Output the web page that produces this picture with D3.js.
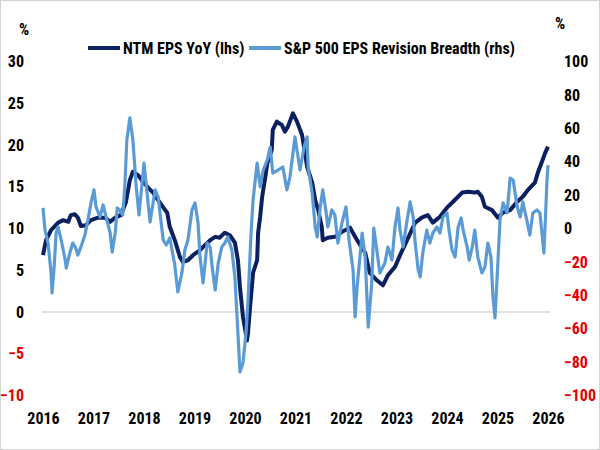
<!DOCTYPE html>
<html>
<head>
<meta charset="utf-8">
<title>NTM EPS YoY vs S&amp;P 500 EPS Revision Breadth</title>
<style>
  body { margin: 0; background: #fff; }
  svg text {
    font-family: 'Liberation Sans Narrow', 'Arial Narrow', 'Roboto Condensed', sans-serif;
    font-weight: bold;
    font-size: 16px;
  }
</style>
</head>
<body>
<svg id="svg" width="600" height="450"></svg>
<script src="https://cdn.jsdelivr.net/npm/d3@7"></script>
<script>
// NTM EPS YoY (%, lhs)
const epsYear = [2016.00, 2016.06, 2016.16, 2016.30, 2016.40, 2016.50, 2016.55, 2016.63, 2016.69, 2016.75,
  2016.85, 2016.95, 2017.09, 2017.23, 2017.33, 2017.43, 2017.54, 2017.64, 2017.72, 2017.78,
  2017.88, 2017.98, 2018.08, 2018.18, 2018.28, 2018.42, 2018.46, 2018.51, 2018.61, 2018.71,
  2018.77, 2018.87, 2018.97, 2019.11, 2019.17, 2019.31, 2019.41, 2019.50, 2019.60, 2019.70,
  2019.80, 2019.86, 2019.90, 2019.96, 2020.04, 2020.06, 2020.10, 2020.16, 2020.24, 2020.26,
  2020.30, 2020.34, 2020.40, 2020.44, 2020.53, 2020.55, 2020.63, 2020.73, 2020.79, 2020.85,
  2020.95, 2021.03, 2021.13, 2021.23, 2021.33, 2021.39, 2021.45, 2021.52, 2021.54, 2021.64,
  2021.78, 2021.92, 2022.08, 2022.22, 2022.38, 2022.47, 2022.61, 2022.73, 2022.83, 2022.97,
  2023.07, 2023.21, 2023.33, 2023.37, 2023.50, 2023.62, 2023.72, 2023.86, 2024.00, 2024.12,
  2024.30, 2024.42, 2024.55, 2024.61, 2024.69, 2024.75, 2024.89, 2025.01, 2025.11, 2025.25,
  2025.39, 2025.50, 2025.60, 2025.74, 2025.80, 2025.88, 2025.94, 2026.00];
const epsYoY = [6.8, 8.6, 9.8, 10.7, 11.0, 10.8, 11.6, 11.7, 11.3, 10.3,
  10.4, 11.0, 11.3, 11.3, 10.8, 11.3, 11.6, 13.1, 15.8, 16.8,
  16.4, 15.6, 14.9, 14.3, 13.4, 12.2, 11.9, 10.2, 8.6, 6.6,
  6.0, 6.2, 6.8, 7.4, 7.8, 8.6, 9.0, 8.9, 9.5, 9.2,
  8.3, 6.2, 3.0, -0.6, -3.4, -2.5, 0.6, 4.7, 6.2, 9.5,
  11.4, 13.8, 16.1, 17.8, 19.4, 21.8, 22.8, 22.4, 21.6, 22.2,
  23.8, 22.8, 21.2, 17.4, 15.5, 13.4, 12.2, 10.2, 8.6, 8.9,
  9.0, 9.6, 10.1, 8.6, 7.1, 4.7, 3.8, 3.2, 4.4, 5.4,
  6.8, 8.6, 10.2, 10.7, 11.3, 11.6, 10.7, 11.4, 12.5, 13.2,
  14.3, 14.4, 14.3, 14.4, 13.8, 12.6, 12.2, 11.3, 11.9, 12.2,
  13.2, 13.8, 14.6, 15.5, 16.7, 18.0, 19.0, 19.8];

// S&P 500 EPS Revision Breadth (%, rhs)
const breadthYear = [2016.00, 2016.04, 2016.10, 2016.16, 2016.18, 2016.22, 2016.26, 2016.30, 2016.36, 2016.44,
  2016.46, 2016.53, 2016.59, 2016.65, 2016.69, 2016.75, 2016.83, 2016.89, 2016.95, 2017.01,
  2017.05, 2017.13, 2017.19, 2017.25, 2017.33, 2017.37, 2017.43, 2017.47, 2017.52, 2017.58,
  2017.62, 2017.66, 2017.72, 2017.78, 2017.84, 2017.90, 2018.00, 2018.06, 2018.12, 2018.22,
  2018.28, 2018.38, 2018.44, 2018.51, 2018.61, 2018.67, 2018.75, 2018.81, 2018.87, 2018.95,
  2019.01, 2019.07, 2019.11, 2019.17, 2019.25, 2019.31, 2019.35, 2019.41, 2019.47, 2019.54,
  2019.60, 2019.66, 2019.74, 2019.80, 2019.86, 2019.90, 2019.96, 2020.02, 2020.06, 2020.12,
  2020.16, 2020.24, 2020.30, 2020.36, 2020.44, 2020.50, 2020.55, 2020.65, 2020.75, 2020.83,
  2020.89, 2020.99, 2021.09, 2021.17, 2021.23, 2021.25, 2021.33, 2021.39, 2021.43, 2021.49,
  2021.54, 2021.60, 2021.64, 2021.72, 2021.78, 2021.84, 2021.92, 2022.00, 2022.06, 2022.14,
  2022.18, 2022.22, 2022.32, 2022.38, 2022.44, 2022.51, 2022.55, 2022.61, 2022.67, 2022.77,
  2022.83, 2022.91, 2022.97, 2023.03, 2023.07, 2023.13, 2023.21, 2023.27, 2023.33, 2023.37,
  2023.43, 2023.47, 2023.52, 2023.60, 2023.66, 2023.72, 2023.80, 2023.86, 2023.92, 2024.00,
  2024.04, 2024.10, 2024.16, 2024.22, 2024.28, 2024.32, 2024.40, 2024.44, 2024.50, 2024.55,
  2024.61, 2024.69, 2024.75, 2024.81, 2024.87, 2024.91, 2024.95, 2024.99, 2025.05, 2025.11,
  2025.19, 2025.25, 2025.31, 2025.39, 2025.45, 2025.50, 2025.58, 2025.64, 2025.70, 2025.78,
  2025.84, 2025.92, 2025.98, 2026.00];
const breadth = [12.3, -0.9, -8.7, -26.6, -38.6, -23.1, -2.7, 0.9, -6.9, -18.9,
  -23.7, -14.7, -8.7, -11.7, -15.9, -11.1, -3.9, 5.1, 15.3, 23.1,
  12.9, 6.9, 14.1, 6.9, -2.7, -14.1, -2.7, 12.3, 11.1, 8.1,
  24.9, 53.0, 66.2, 53.0, 27.2, 8.1, 39.2, 21.3, 3.9, 23.1,
  18.9, -6.9, -9.9, -5.7, -21.9, -38.0, -26.6, -12.9, -6.9, 11.1,
  15.3, 3.3, -17.1, -32.6, -8.7, -11.1, -23.1, -36.8, -20.7, -11.1,
  -8.7, -5.1, -12.9, -29.0, -62.6, -85.9, -80.5, -62.6, -42.8, -2.7,
  17.1, 39.2, 24.9, 35.0, 41.0, 48.8, 33.2, 35.0, 36.8, 23.1,
  30.8, 54.8, 35.0, 48.8, 54.8, 36.8, 21.3, 0.9, -5.1, 12.9,
  23.1, 11.1, 0.9, 11.1, 8.1, -8.7, 3.3, 12.9, -6.9, -24.9,
  -53.0, -35.0, -2.7, -17.1, -59.0, -32.6, 0.3, -12.9, -26.6, -20.7,
  -11.1, -18.9, 0.9, 12.3, -0.9, -11.1, 5.1, 15.9, 6.9, -8.7,
  -24.9, -29.0, -14.7, -0.9, -8.7, -2.7, 0.9, -2.7, 6.9, 9.3,
  -0.9, -12.9, -17.1, 0.9, 6.3, -0.9, -11.1, -18.9, -11.1, -0.9,
  -17.1, -26.6, -23.1, -8.7, -17.1, -41.0, -53.6, -30.8, 5.1, 15.3,
  9.3, 30.2, 29.0, 12.9, 6.9, 15.9, 5.1, -3.9, 9.3, 11.1,
  9.3, -14.7, 29.0, 38.0];

const yearTicks = [2016, 2017, 2018, 2019, 2020, 2021, 2022, 2023, 2024, 2025, 2026];
const leftTicks = [-10, -5, 0, 5, 10, 15, 20, 25, 30];
const rightTicks = [-100, -80, -60, -40, -20, 0, 20, 40, 60, 80, 100];

const darkBlue = '#0c1f5e';
const lightBlue = '#5b9bd5';
const red = '#e60000';

const svg = d3.select('#svg');

svg.append('rect')
  .attr('x', 0.5).attr('y', 0.5)
  .attr('width', 599).attr('height', 449)
  .attr('fill', '#fff')
  .attr('stroke', '#d4d4d4');

const x = d3.scaleLinear().domain([2016, 2026]).range([43, 548]);
const yL = d3.scaleLinear().domain([-10, 30]).range([395.5, 61.5]);
const yR = d3.scaleLinear().domain([-100, 100]).range([395.5, 61.5]);

// zero line of the left axis
svg.append('line')
  .attr('x1', x(2016) - 1).attr('x2', x(2026) + 2)
  .attr('y1', yL(0)).attr('y2', yL(0))
  .attr('stroke', '#d9d9d9')
  .attr('stroke-width', 1.5);

// axes, labels only
function styleAxis(g) {
  g.select('.domain').remove();
  g.selectAll('.tick line').remove();
  g.selectAll('.tick text').attr('font-size', null).attr('font-family', null);
}

svg.append('g')
  .attr('transform', 'translate(24,0)')
  .call(d3.axisLeft(yL).tickValues(leftTicks).tickSize(0).tickPadding(0))
  .call(styleAxis)
  .selectAll('.tick text')
  .attr('fill', d => d < 0 ? red : '#000');

svg.append('g')
  .attr('transform', 'translate(564,0)')
  .call(d3.axisRight(yR).tickValues(rightTicks).tickSize(0).tickPadding(0))
  .call(styleAxis)
  .selectAll('.tick text')
  .attr('fill', d => d < 0 ? red : '#000');

svg.append('g')
  .attr('transform', 'translate(0,413)')
  .call(d3.axisBottom(x).tickValues(yearTicks).tickFormat(d3.format('d')).tickSize(0).tickPadding(0))
  .call(styleAxis)
  .selectAll('.tick text')
  .attr('fill', '#000');

svg.append('text').attr('x', 24).attr('y', 35).attr('text-anchor', 'middle').text('%');
svg.append('text').attr('x', 560).attr('y', 29).attr('text-anchor', 'middle').text('%');

// lines
const epsLine = d3.line()
  .x((d, i) => x(epsYear[i]))
  .y(d => yL(d));

const breadthLine = d3.line()
  .x((d, i) => x(breadthYear[i]))
  .y(d => yR(d));

svg.append('path')
  .attr('d', epsLine(epsYoY))
  .attr('fill', 'none')
  .attr('stroke', darkBlue)
  .attr('stroke-width', 4)
  .attr('stroke-linejoin', 'round');

svg.append('path')
  .attr('d', breadthLine(breadth))
  .attr('fill', 'none')
  .attr('stroke', lightBlue)
  .attr('stroke-width', 3.2)
  .attr('stroke-linejoin', 'round');

// legend
const legend = [
  { name: 'NTM EPS YoY (lhs)', color: darkBlue, x0: 88, tx: 123 },
  { name: 'S&P 500 EPS Revision Breadth (rhs)', color: lightBlue, x0: 249, tx: 284 }
];
legend.forEach(l => {
  svg.append('line')
    .attr('x1', l.x0).attr('x2', l.x0 + 32)
    .attr('y1', 48).attr('y2', 48)
    .attr('stroke', l.color)
    .attr('stroke-width', 4);
  svg.append('text')
    .attr('x', l.tx).attr('y', 54)
    .text(l.name);
});
</script>
</body>
</html>
